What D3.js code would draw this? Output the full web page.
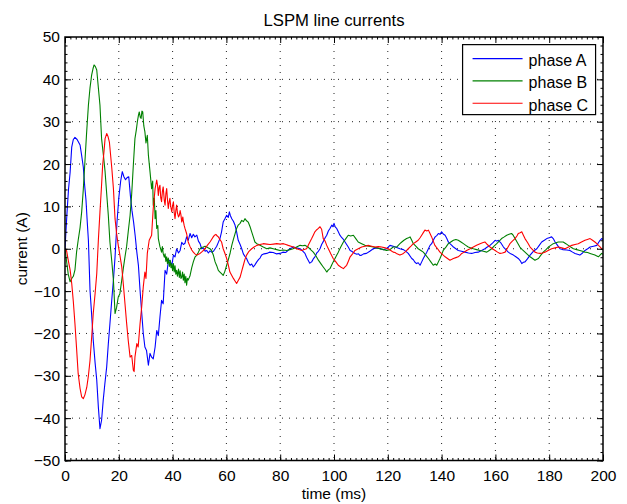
<!DOCTYPE html>
<html>
<head>
<meta charset="utf-8">
<script src="https://cdn.jsdelivr.net/npm/d3@7"></script>
<style>
  body { margin: 0; background: #fff; }
  svg text { font-family: "Liberation Sans", Arial, Helvetica, sans-serif; fill: #000; }
</style>
</head>
<body>
<div id="chart"></div>
<script>
// [time (ms), current (A)]
const phaseA = [[0,0],[0.7,8],[1.3,14],[1.9,18],[2.5,24],[3.1,25.8],[3.7,26.3],[4.5,25.8],[5.6,24.5],[6.2,22],[6.8,19.3],[7.3,15],[7.8,11.5],[8.3,6],[8.7,2],
  [9.3,-9.8],[9.9,-15.5],[10.5,-21.6],[11.2,-27],[11.8,-31],[12.4,-37.4],[13,-42.5],[13.6,-40.5],[14.2,-35.8],[14.8,-32],[15.5,-27.9],[16.1,-22.5],[16.7,-17.7],[17.4,-12],[18,-7.4],
  [18.6,-2],[19.3,6],[20,12],[20.7,16],[21.3,18.2],[21.9,17],[22.5,16.3],[23.1,16.8],[23.7,17],[24.3,12.6],[24.9,9],[25.5,6.3],[26.1,3],[26.7,-0.8],
  [27.3,-4],[27.9,-9.8],[28.5,-15],[29.1,-20],[29.7,-23.2],[30.3,-24],[31,-27.5],[31.6,-24.7],[32.2,-25.6],[32.8,-26],[33.5,-23.2],[34.1,-19.3],[34.7,-20.5],[35.3,-16.1],[35.9,-12.2],[36.5,-13],[37.2,-5.1],[37.8,-6],[38.4,-3],[39,-2.7],[39.7,-4],[40.3,-1.5],[40.9,-1.9],[41.5,0],[42.2,-1],[42.8,-0.4],[43.4,1.5],[44,1],[44.6,1.3],[45.2,2.8],[45.8,2],[46.5,3.6],[47.1,2.6],[47.7,3.4],[48.3,2.8],[49,3.2],[49.6,1.8],[50.2,1.2],[50.8,0],[51.5,0.2],[52.1,-0.6],[52.7,-0.4],[53.3,-1],[53.9,-0.5],[54.5,-0.8],[55.2,-0.6],[55.8,0],[56.4,0.6],[57,1.5],[57.6,2.4],[58.2,4],[58.8,6.3],[59.4,7],[60.1,7.9],[60.7,7.4],[61.1,8.7],[61.5,7.8],[62,7.1],[62.6,6.5],[63.2,5.6],[63.8,4],[64.4,2],[65.1,1],[65.7,0],[66.3,-1.2],[66.9,-1.8],[67.5,-2.3],[68.1,-3.2],[68.8,-3.9],[69.4,-3.6],[70,-4.3],[70.6,-3.8],[71.3,-3.1],[72,-2.5],[72.5,-2.2],[73.1,-1.5],[74,-1.2],[75,-1.1],[76,-0.8],[77.4,-0.9],[78.5,-1.2],[79.9,-1.1],[81,-0.8],[82,-0.9],[83.6,0],[85,0.4],[86,0.2],[87.4,0],[88.3,-0.5],[89.2,-1.1],[89.8,-2],[90.4,-2.7],[91,-3.4],[91.7,-3.1],[92.3,-2.4],[92.9,-1.9],[93.6,-1],[94.2,-0.6],[94.8,0],[95.4,1],[96.1,1.8],[96.7,2.6],[97.3,3.2],[97.9,4.2],[98.5,4.8],[99.2,5.6],[99.6,5.2],[100,6],[100.5,5.1],[101,4.8],[101.6,4],[102.2,3.2],[102.9,2.6],[103.5,2.2],[104.1,1.6],[104.7,1],[105.3,0.4],[106,-0.4],[106.6,-0.6],[107.2,-0.9],[107.8,-1.1],[108.5,-1.3],[109.1,-1.2],[109.7,-1.6],[110.3,-1.5],[111,-1.2],[112.1,-1.1],[113.3,-0.6],[114.6,0],[116,0.2],[117.1,0],[118.4,-0.2],[119.6,0],[120.8,0.8],[122,0.6],[123.3,0.3],[124.5,0],[125.8,-0.2],[126.5,-0.5],[127.6,-1.1],[128.9,-2.3],[129.5,-2.6],[130.1,-3.2],[130.7,-3.5],[131.3,-3.3],[132,-3.9],[132.6,-3.1],[133.2,-2.3],[133.9,-1.5],[134.5,-0.8],[135.1,0],[135.7,0.8],[136.3,1.2],[136.9,2],[137.6,2.8],[138.2,3.1],[138.8,3.6],[139.4,3.4],[140,4],[140.6,3.5],[141.3,3.2],[141.9,2.5],[142.5,1.6],[143.1,1.2],[143.8,0.8],[144.4,0.4],[145.3,0],[146.2,-0.4],[147.4,-0.6],[148.7,-0.8],[150,-1],[151.2,-1.1],[152.4,-0.9],[153.6,-0.8],[154.9,-0.4],[156.1,0],[157,0.4],[158,0.8],[159,1.4],[159.9,2],[160.5,1.8],[161.1,2],[162,1.4],[163,0.4],[163.9,-0.2],[164.8,-0.8],[165.7,-1.2],[166.7,-1.5],[167.6,-1.9],[168.5,-2.3],[169.2,-2.8],[169.8,-3.5],[170.4,-3.2],[171,-3.1],[171.9,-2.4],[172.9,-1.5],[174.1,-0.6],[175.4,0],[176.3,0.8],[177.2,1.6],[178.2,2],[179.1,2.4],[180,2.6],[180.9,2.8],[181.5,2.4],[182.2,1.6],[183.1,0.8],[184,0],[185,-0.2],[186.5,-0.3],[187.7,-0.4],[188.7,-0.8],[189.6,-1.1],[190.5,-1.3],[191.4,-1.5],[192.4,-1],[193.3,-0.4],[194.3,0],[195.2,0.4],[196.5,0.6],[197.7,0.8],[198.3,1.4],[198.9,2],[199.5,2.4],[200,2.2]];

const phaseB = [[0,0],[0.6,-3],[1.2,-6],[1.9,-7.8],[2.5,-7],[3.1,-6.5],[3.7,-5],[4.3,-0.8],[4.9,2],[5.6,5],[6.2,8.7],[6.8,14],[7.4,20.5],[8,27],[8.7,33.9],[9.3,38],[9.9,41],[10.4,42.5],[10.8,43.4],[11.3,43],[11.8,42.2],[12.4,38],[13,33.9],[13.6,26],[14.3,22],[14.9,18.2],[15.5,13],[16.1,7.9],[16.7,1.6],
  [17.4,-3],[18,-7.4],[18.6,-15.3],[19.2,-13.8],[19.8,-11.4],[20.4,-10.6],[21.1,-7.4],[21.7,-4.5],[22.3,-1.9],[22.9,0.5],[23.5,4],[24.2,7.9],[24.8,13],[25.4,19.7],[26,26],[26.5,28],[26.9,30],[27.3,31.5],[27.6,32.3],[28,31],[28.3,30.8],[28.6,32.5],[28.9,32.3],[29.3,29],[29.7,27.6],[30.1,25],[30.6,26.8],[31,22.1],[31.6,18.2],[32.2,14.2],[32.6,16],[32.8,10.3],[33.2,12],[33.5,7.1],[33.8,9],[34.1,4.8],[34.5,5.5],[34.7,2.4],[35.3,0.5],[35.9,-0.8],[36.2,0.5],[36.5,-1.1],[36.9,-2],[37.2,-1.2],[37.5,-3],[37.8,-1.9],[38.1,-3.5],[38.4,-2.2],[38.8,-4.2],[39.1,-2.8],[39.4,-4.5],[39.7,-3.5],[40,-5.2],[40.3,-3.5],[40.6,-5.5],[40.9,-4],[41.2,-6],[41.5,-5.1],[41.8,-6.5],[42.2,-4.8],[42.5,-6.8],[42.8,-5.2],[43.1,-7],[43.4,-6.7],[43.7,-5.5],[44,-7.4],[44.3,-6],[44.6,-8],[44.9,-6.5],[45.2,-8.6],[45.5,-7],[45.8,-7.4],[46.2,-6.8],[46.5,-6.3],[47.1,-4.5],[47.7,-3.1],[48.3,-2],[49,-1.5],[49.6,-0.8],[50.2,0],[50.8,0.3],[51.4,0.4],[52.1,0.6],[52.7,0.4],[53.3,0.2],[53.9,0],[54.5,-0.4],[55.2,-1.6],[55.8,-3.1],[56.4,-4],[57,-5.1],[57.6,-5.5],[58.2,-5.9],[58.8,-6.3],[59.4,-5.4],[60.1,-3.9],[60.7,-2.6],[61.4,-1],[62,0.8],[62.6,2.2],[63.2,3.5],[63.8,4.8],[64.4,5.6],[65.1,6],[65.7,6.7],[66.3,6.4],[66.9,7.1],[67.5,6.6],[68.1,6.3],[68.8,5.2],[69.4,4],[70,2.8],[70.6,1.6],[71.3,1.2],[72,1],[72.5,0.8],[73.7,0.4],[75,0],[76.2,0.2],[77.4,0],[78.7,-0.2],[79.9,-0.4],[81.2,-0.3],[82.4,-0.4],[83.6,-0.2],[84.8,0],[86.1,0.4],[87.4,0.8],[88.3,0.7],[89.2,0.8],[89.8,0.6],[90.4,0.4],[91.3,-0.2],[92.3,-0.8],[93.2,-1.6],[94.2,-2.7],[95.1,-3.5],[96,-4.3],[96.7,-4.9],[97.3,-5.5],[97.9,-5],[98.5,-4.7],[99.1,-3.9],[99.7,-3.1],[100.6,-2],[101.6,-0.8],[102.5,0.4],[103.5,1.6],[104.4,2.4],[105.3,3.2],[106.2,3],[107.2,3.2],[108.1,2.4],[109,1.6],[110.3,1.2],[111.5,0.8],[113,0.6],[114.6,0.4],[115.9,0.2],[117.1,0],[118.4,-0.2],[119.6,-0.4],[120.8,-0.2],[122,0.4],[123.3,0.4],[124.5,1.2],[125.2,1.6],[126,2],[127,2.4],[127.7,2.6],[128.3,2.8],[128.9,2],[129.5,1.2],[130.4,0.6],[131.3,0],[132.3,-0.4],[133.2,-0.8],[134.1,-1.5],[135.1,-2.3],[136,-3.1],[136.9,-3.9],[137.6,-3.6],[138.2,-3.9],[138.8,-3.1],[139.4,-2.3],[140,-1.4],[140.6,-0.4],[141.6,0.4],[142.5,1.2],[143.4,1.6],[144.4,2],[145.3,2.2],[146.2,2],[147.2,1.6],[148.1,1.2],[149,0.8],[149.9,0.4],[150.9,0.2],[151.8,0],[153,-0.2],[154.3,-0.4],[155.5,-0.6],[156.8,-0.8],[157.7,-0.4],[158.6,0],[159.5,0.6],[160.5,1.2],[161.4,1.8],[162.3,2.4],[163.3,2.8],[164.2,3.2],[165.1,3.4],[166,3.6],[166.6,3.2],[167.3,2.4],[168.2,1.4],[169.1,0.4],[170,-0.2],[171,-0.8],[172,-1.4],[172.9,-1.9],[173.8,-2.3],[174.7,-2.7],[175.4,-2.5],[176,-2.3],[176.9,-1.5],[177.8,-0.8],[178.8,-0.2],[179.7,0.4],[180.6,0.8],[181.5,1.2],[182.5,1.4],[183.4,1.6],[184.3,1.6],[185.2,1.6],[186.2,1.2],[187.1,0.8],[188,0.4],[189,0],[190.2,-0.2],[191.4,-0.4],[192.4,-0.6],[193.3,-0.8],[194.3,-0.9],[195.2,-1.1],[196.1,-1.3],[197,-1.5],[197.7,-1.7],[198.3,-1.9],[198.9,-1.5],[199.5,-1.1],[200,-1.3]];

const phaseC = [[0,0],[0.6,-0.5],[1.2,-2.7],[1.9,-5],[2.5,-8.2],[3.1,-12.5],[3.7,-17.7],[4.3,-23.5],[4.9,-29.5],[5.6,-33],[6.2,-35],[6.8,-35.4],[7.4,-34.5],[8.1,-32.7],[8.7,-30],[9.3,-26.4],[9.9,-21],[10.5,-15.3],[11.2,-10.5],[11.8,-5.9],[12.4,2],[13,8.7],[13.5,14],[14,19.7],[14.5,23],[14.9,26],[15.5,27.2],[16,26.5],[16.5,25.2],[16.9,22.5],[17.4,19],[18,14.2],[18.6,7.1],[19.2,3.5],[19.8,0.8],[20.4,-1.5],[21.1,-4.3],[21.7,-8.5],[22.3,-13],[22.9,-17.5],[23.5,-21.6],[24.2,-25.6],[24.8,-25.2],[25.4,-28.7],[25.7,-29],[26,-25.6],[26.7,-22.4],[27.2,-23.2],[27.9,-17.7],[28.5,-13.8],[29.1,-9],[29.7,-5.5],[30.1,-7],[30.6,-1.1],[31.3,2],[32.2,3.2],[32.8,9.5],[33.5,14.2],[34.1,16.2],[34.4,15],[34.7,12.6],[35,14.5],[35.3,15],[35.6,12],[35.9,11.1],[36.2,13.5],[36.5,14.6],[36.9,11.5],[37.2,10.3],[37.5,13],[37.8,14.2],[38.1,11.5],[38.4,9.5],[38.7,11],[39,11.9],[39.3,10],[39.7,8.7],[40,10.2],[40.3,11.1],[40.6,8.5],[40.9,7.1],[41.2,9],[41.5,10.3],[41.8,8.5],[42.2,7.5],[42.5,7.9],[42.8,9],[43.1,8],[43.4,6.3],[43.8,7.5],[44,6.5],[44.3,5.5],[44.6,4.8],[45.2,3.6],[45.8,1.6],[46.5,0.5],[47.1,-0.3],[47.7,-0.8],[48.3,-1.2],[49,-1.5],[49.6,-1.3],[50.2,-1.1],[51.1,-0.6],[52,0],[52.9,0.8],[53.9,1.6],[54.5,2.2],[55.1,2.8],[55.6,3.2],[56.1,3.4],[56.6,3],[57,2.8],[57.6,2.2],[58.2,1.6],[58.8,0],[59.4,-1],[60.1,-2.3],[60.7,-3.8],[61.3,-5.5],[62,-6.3],[62.6,-7],[63.2,-7.6],[63.8,-8.2],[64.4,-7.5],[65.1,-6.7],[65.7,-5.3],[66.3,-3.9],[66.9,-2.5],[67.5,-1.5],[68.4,-0.6],[69.4,0],[70.3,0.4],[71.3,0.8],[72.5,1],[73.7,1.2],[75,1.1],[76.2,1],[77.5,1.1],[78.7,1.2],[80,1.1],[81.2,1.2],[82.1,1],[83,0.8],[84,0.6],[84.9,0.4],[86.1,0],[87,-0.2],[88,-0.4],[88.9,-0.2],[89.8,0],[90.7,1.2],[91.7,2.4],[92.3,3.2],[92.9,4],[93.6,4.5],[94.2,4.8],[94.8,5.2],[95.4,4.6],[96,2.4],[96.7,1.8],[97.3,0.8],[97.9,0],[98.8,-1.2],[99.7,-2.3],[100.7,-3.1],[101.6,-3.9],[102.5,-4.3],[103.5,-4.7],[104.1,-4.3],[104.7,-3.9],[105.3,-3],[106,-1.9],[106.9,-1.2],[107.8,-0.4],[109,0],[110.3,0.4],[111.5,0.6],[112.7,0.8],[114,0.6],[115.2,0.4],[116.5,0.5],[117.7,0.4],[119,0.2],[120.2,0],[121.1,-0.4],[122,-0.8],[122.7,-0.9],[123.4,-1.2],[124.5,-1.5],[125.2,-1.3],[125.8,-1.1],[126.7,-0.6],[127.6,0],[128.6,0.6],[129.5,1.2],[130.4,1.6],[131.3,2],[132,2.6],[132.6,3.2],[133.2,3.8],[133.8,4.4],[134.5,4.2],[135.1,4.4],[135.7,3.6],[136.3,2.8],[136.9,1.8],[137.5,0.8],[138.5,0],[139.4,-0.8],[140.4,-1.4],[141.3,-1.9],[142.2,-2.3],[143.1,-2.7],[143.8,-2.5],[144.4,-2.3],[145.3,-2.1],[146.2,-1.9],[146.9,-1.5],[147.5,-1.1],[148.4,-0.8],[149.3,-0.4],[150.6,0],[151.8,0.4],[153,0.8],[154.3,1.2],[155.2,1.4],[156.1,1.6],[157,1],[158,0.4],[158.9,0],[159.9,-0.4],[160.8,-0.8],[161.7,-1.1],[162.6,-1],[163.6,-0.8],[164.5,0.2],[165.4,1.2],[166.3,1.8],[167.3,2.4],[168,3],[168.5,3.6],[169.2,3.8],[169.8,4],[170.4,3.2],[171,2.4],[172,1.4],[172.9,0.4],[173.8,-0.2],[174.7,-0.8],[175.6,-1],[176.6,-1.1],[177.5,-1],[178.4,-0.8],[179.6,-0.4],[180.9,0],[182.2,0.2],[183.4,0.4],[184.7,0.2],[185.9,0],[187.2,0.4],[188.4,0.8],[189.6,1],[190.8,1.2],[192,1.6],[193.3,2],[194.2,2.2],[195.2,2.4],[196.1,2],[197,1.6],[197.7,1.2],[198.3,0.8],[199,0.4],[199.5,0],[200,-0.2]];

const seriesNames = ["phase A", "phase B", "phase C"];
const seriesColors = ["#0000ff", "#008000", "#ff0000"];
const xTicks = [0, 20, 40, 60, 80, 100, 120, 140, 160, 180, 200];
const yTicks = [-50, -40, -30, -20, -10, 0, 10, 20, 30, 40, 50];

const W = 627, H = 504;
const margin = { top: 37, right: 24, bottom: 43.5, left: 65 };
const width = W - margin.left - margin.right;
const height = H - margin.top - margin.bottom;

const svg = d3.select("#chart").append("svg")
    .attr("width", W)
    .attr("height", H);

const g = svg.append("g")
    .attr("transform", `translate(${margin.left},${margin.top})`);

const xScale = d3.scaleLinear().domain([0, 200]).range([0, width]);
const yScale = d3.scaleLinear().domain([-50, 50]).range([height, 0]);

// dotted grid
g.append("g").selectAll("line").data(xTicks.slice(1, -1)).enter().append("line")
    .attr("x1", d => xScale(d)).attr("x2", d => xScale(d))
    .attr("y1", 0).attr("y2", height);
g.append("g").selectAll("line").data(yTicks.slice(1, -1)).enter().append("line")
    .attr("x1", 0).attr("x2", width)
    .attr("y1", d => yScale(d)).attr("y2", d => yScale(d));
g.selectAll("g line")
    .attr("stroke", "#222")
    .attr("stroke-width", 1)
    .attr("stroke-dasharray", "1,6");

// curves
g.append("clipPath").attr("id", "clip")
    .append("rect").attr("width", width).attr("height", height);

const line = d3.line()
    .x(d => xScale(d[0]))
    .y(d => yScale(d[1]));

[phaseA, phaseB, phaseC].forEach((data, i) => {
    g.append("path")
        .datum(data)
        .attr("clip-path", "url(#clip)")
        .attr("fill", "none")
        .attr("stroke", seriesColors[i])
        .attr("stroke-width", 1.1)
        .attr("stroke-linejoin", "round")
        .attr("d", line);
});

// axes, ticks pointing inward on all four sides
const minorX = d3.range(0, 201, 2);
const minorY = d3.range(-50, 51, 2);
const fontSize = "15.5px";

const xAxis = g.append("g")
    .attr("transform", `translate(0,${height})`)
    .call(d3.axisBottom(xScale).tickValues(xTicks).tickSizeInner(-6).tickSizeOuter(0).tickPadding(9));
xAxis.selectAll("text").style("font-size", fontSize);

g.append("g")
    .attr("transform", `translate(0,${height})`)
    .call(d3.axisBottom(xScale).tickValues(minorX).tickSizeInner(-2.5).tickSizeOuter(0).tickFormat(""));
g.append("g")
    .call(d3.axisTop(xScale).tickValues(xTicks).tickSizeInner(-6).tickSizeOuter(0).tickFormat(""));
g.append("g")
    .call(d3.axisTop(xScale).tickValues(minorX).tickSizeInner(-2.5).tickSizeOuter(0).tickFormat(""));

const yAxis = g.append("g")
    .call(d3.axisLeft(yScale).tickValues(yTicks).tickSizeInner(-6).tickSizeOuter(0).tickPadding(5));
yAxis.selectAll("text").style("font-size", fontSize);

g.append("g")
    .call(d3.axisLeft(yScale).tickValues(minorY).tickSizeInner(-2.5).tickSizeOuter(0).tickFormat(""));
g.append("g")
    .attr("transform", `translate(${width},0)`)
    .call(d3.axisRight(yScale).tickValues(yTicks).tickSizeInner(-6).tickSizeOuter(0).tickFormat(""));
g.append("g")
    .attr("transform", `translate(${width},0)`)
    .call(d3.axisRight(yScale).tickValues(minorY).tickSizeInner(-2.5).tickSizeOuter(0).tickFormat(""));

g.selectAll(".domain").remove();
g.selectAll(".tick line").attr("stroke", "#000").attr("stroke-width", 1);

// frame
g.append("rect")
    .attr("width", width)
    .attr("height", height)
    .attr("fill", "none")
    .attr("stroke", "#000")
    .attr("stroke-width", 1.5);

// legend
const legend = g.append("g").attr("transform", `translate(${xScale(147.8)},${yScale(48.2)})`);
legend.append("rect")
    .attr("width", 133)
    .attr("height", 70)
    .attr("fill", "#fff")
    .attr("stroke", "#000")
    .attr("stroke-width", 1.2);
seriesNames.forEach((name, i) => {
    const yy = 14 + i * 22.3;
    legend.append("line")
        .attr("x1", 10).attr("x2", 60)
        .attr("y1", yy).attr("y2", yy)
        .attr("stroke", seriesColors[i])
        .attr("stroke-width", 1.1);
    legend.append("text")
        .attr("x", 66)
        .attr("y", yy + 7.5)
        .style("font-size", "16px")
        .text(name);
});

// title and axis labels
svg.append("text")
    .attr("x", margin.left + width / 2)
    .attr("y", 25.5)
    .attr("text-anchor", "middle")
    .style("font-size", "16.7px")
    .text("LSPM line currents");

svg.append("text")
    .attr("x", margin.left + width / 2)
    .attr("y", 499)
    .attr("text-anchor", "middle")
    .style("font-size", "15.5px")
    .text("time (ms)");

svg.append("text")
    .attr("transform", `translate(27,${margin.top + height / 2}) rotate(-90)`)
    .attr("text-anchor", "middle")
    .style("font-size", "15.5px")
    .text("current (A)");
</script>
</body>
</html>
